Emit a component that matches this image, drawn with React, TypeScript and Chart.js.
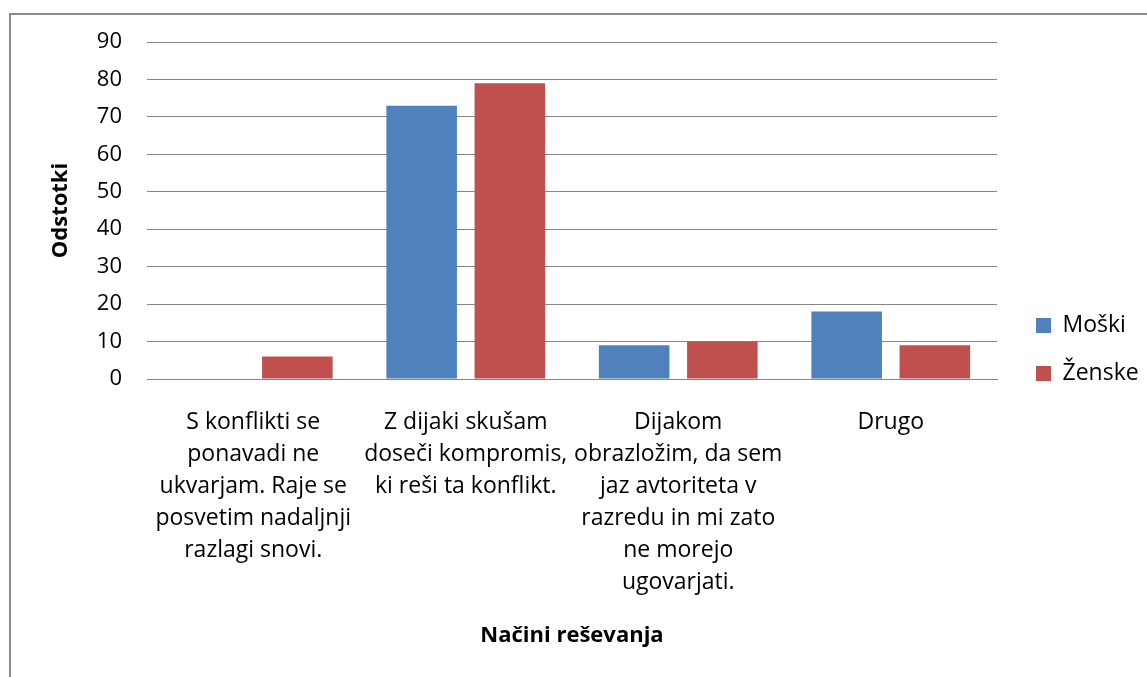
import React, { useEffect, useRef } from "react";
import { Chart, registerables } from "chart.js";

Chart.register(...registerables);

const categories: string[][] = [
  ["S konflikti se", "ponavadi ne", "ukvarjam. Raje se", "posvetim nadaljnji", "razlagi snovi."],
  ["Z dijaki skušam", "doseči kompromis,", "ki reši ta konflikt."],
  ["Dijakom", "obrazložim, da sem", "jaz avtoriteta v", "razredu in mi zato", "ne morejo", "ugovarjati."],
  ["Drugo"],
];
const moski: number[] = [0, 73, 9, 18];
const zenske: number[] = [6, 79, 10, 9];
const seriesNames: string[] = ["Moški", "Ženske"];
const seriesColors: string[] = ["#4F81BD", "#C0504D"];
const yTitle = "Odstotki";
const xTitle = "Načini reševanja";

const W = 1147;
const H = 677;
const FONT = "'Open Sans'";
const GRID = "#868686";

export default function App() {
  const ref = useRef<HTMLCanvasElement>(null);
  useEffect(() => {
    let chart: Chart | null = null;
    let cancelled = false;
    const build = () => {
      if (cancelled || !ref.current) return;
      const framePlugin = {
        id: "frame",
        beforeDraw(c: any) {
          const ctx = c.ctx;
          ctx.save();
          ctx.fillStyle = "#ffffff";
          ctx.fillRect(0, 0, W, H);
          ctx.strokeStyle = "#898989";
          ctx.lineWidth = 2;
          ctx.beginPath();
          ctx.moveTo(10, H + 10);
          ctx.lineTo(10, 14);
          ctx.lineTo(W + 10, 14);
          ctx.stroke();
          ctx.restore();
        },
      };
      const legendPlacer = {
        id: "legendPlacer",
        afterLayout(c: any) {
          const lg = c.legend;
          if (!lg) return;
          const pad = lg.options.labels.padding;
          const dx = 1036 - (lg.left + pad);
          const dy = 314 - (lg.top + pad);
          lg.left += dx;
          lg.right = W;
          lg.top += dy;
          lg.bottom += dy;
          lg.width = lg.right - lg.left;
        },
      };
      chart = new Chart(ref.current, {
        type: "bar",
        data: {
          labels: categories,
          datasets: [
            { label: seriesNames[0], data: moski, backgroundColor: seriesColors[0], borderWidth: 0 },
            { label: seriesNames[1], data: zenske, backgroundColor: seriesColors[1], borderWidth: 0 },
          ],
        },
        options: {
          responsive: false,
          animation: false,
          devicePixelRatio: 1,
          datasets: { bar: { categoryPercentage: 0.83, barPercentage: 0.8 } },
          layout: { padding: { top: 42, left: 0, right: 50, bottom: 0 } },
          plugins: {
            title: { display: false },
            tooltip: { enabled: false },
            legend: {
              position: "right",
              align: "start",
              maxWidth: 100,
              labels: {
                boxWidth: 15,
                boxHeight: 15,
                padding: 25,
                color: "#000000",
                font: { family: FONT, size: 23 },
              },
            },
          },
          scales: {
            x: {
              grid: { display: false, drawTicks: false },
              border: { display: true, color: GRID, width: 1 },
              ticks: {
                color: "#000000",
                font: { family: FONT, size: 23, lineHeight: "32px" },
                padding: 27,
                autoSkip: false,
                maxRotation: 0,
                minRotation: 0,
              },
              title: {
                display: true,
                text: xTitle,
                color: "#000000",
                font: { family: FONT, size: 22, weight: "bold" },
                padding: { top: 0, bottom: 28 },
              },
              afterFit(scale: any) {
                scale.height = H - 379;
              },
            },
            y: {
              min: 0,
              max: 90,
              grid: { color: GRID, lineWidth: 1, drawTicks: false },
              border: { display: false },
              ticks: {
                stepSize: 10,
                color: "#000000",
                font: { family: FONT, size: 22 },
                padding: 25,
              },
              title: {
                display: true,
                text: yTitle,
                color: "#000000",
                font: { family: FONT, size: 22, weight: "bold" },
                padding: { top: 48, bottom: 0 },
              },
              afterFit(scale: any) {
                scale.width = 147;
              },
            },
          },
        },
        plugins: [framePlugin, legendPlacer],
      } as any);
    };
    const fontsApi = (document as any).fonts;
    if (fontsApi && fontsApi.load) {
      Promise.all([
        fontsApi.load(`22px ${FONT}`),
        fontsApi.load(`bold 22px ${FONT}`),
      ]).then(build, build);
    } else {
      build();
    }
    return () => {
      cancelled = true;
      if (chart) chart.destroy();
    };
  }, []);
  return (
    <div style={{ position: "fixed", left: 0, top: 0, width: W, height: H, background: "#fff" }}>
      <canvas ref={ref} width={W} height={H} style={{ display: "block", width: W, height: H }} />
    </div>
  );
}
